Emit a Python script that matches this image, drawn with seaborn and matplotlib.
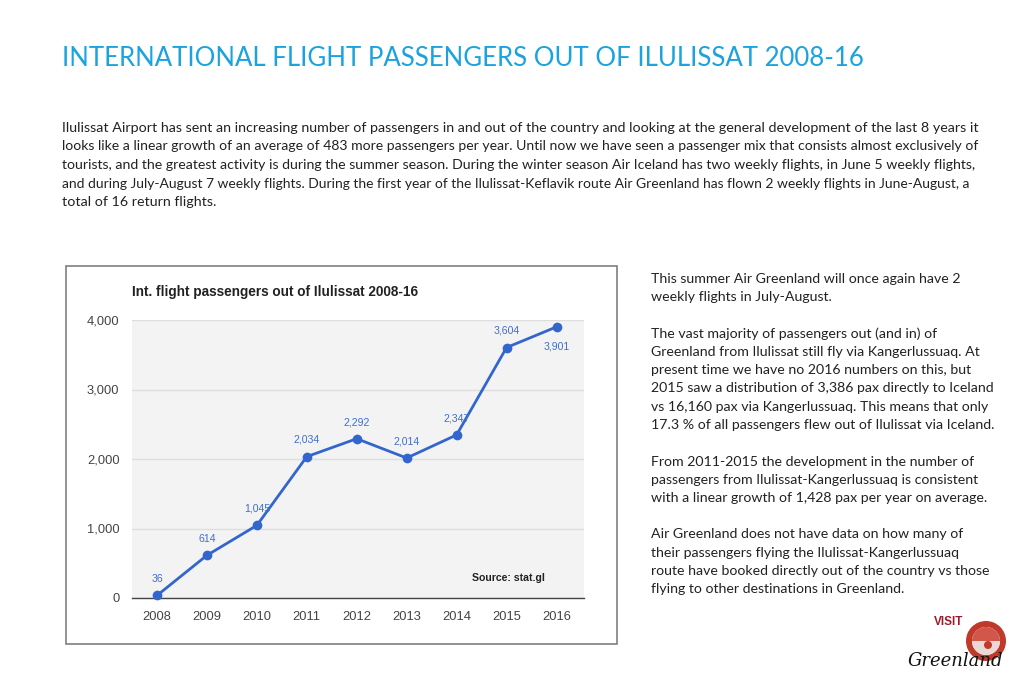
import matplotlib
matplotlib.use("Agg")
import matplotlib.pyplot as plt
import seaborn as sns
import pandas as pd
from matplotlib.patches import Rectangle, Wedge, Circle
from matplotlib.ticker import FuncFormatter

years = [2008, 2009, 2010, 2011, 2012, 2013, 2014, 2015, 2016]
passengers = [36, 614, 1045, 2034, 2292, 2014, 2347, 3604, 3901]
label_below = [False, False, False, False, False, False, False, False, True]
y_ticks = [0, 1000, 2000, 3000, 4000]

title = "INTERNATIONAL FLIGHT PASSENGERS OUT OF ILULISSAT 2008-16"
body_lines = [
    "Ilulissat Airport has sent an increasing number of passengers in and out of the country and looking at the general development of the last 8 years it",
    "looks like a linear growth of an average of 483 more passengers per year. Until now we have seen a passenger mix that consists almost exclusively of",
    "tourists, and the greatest activity is during the summer season. During the winter season Air Iceland has two weekly flights, in June 5 weekly flights,",
    "and during July-August 7 weekly flights. During the first year of the Ilulissat-Keflavik route Air Greenland has flown 2 weekly flights in June-August, a",
    "total of 16 return flights.",
]
side_lines = [
    "This summer Air Greenland will once again have 2",
    "weekly flights in July-August.",
    "",
    "The vast majority of passengers out (and in) of",
    "Greenland from Ilulissat still fly via Kangerlussuaq. At",
    "present time we have no 2016 numbers on this, but",
    "2015 saw a distribution of 3,386 pax directly to Iceland",
    "vs 16,160 pax via Kangerlussuaq. This means that only",
    "17.3 % of all passengers flew out of Ilulissat via Iceland.",
    "",
    "From 2011-2015 the development in the number of",
    "passengers from Ilulissat-Kangerlussuaq is consistent",
    "with a linear growth of 1,428 pax per year on average.",
    "",
    "Air Greenland does not have data on how many of",
    "their passengers flying the Ilulissat-Kangerlussuaq",
    "route have booked directly out of the country vs those",
    "flying to other destinations in Greenland.",
]
chart_title = "Int. flight passengers out of Ilulissat 2008-16"
source_text = "Source: stat.gl"

W, H = 1024, 683
sns.set_style("white")
plt.rcParams["font.family"] = ["Lato", "DejaVu Sans"]

fig = plt.figure(figsize=(W / 100, H / 100), dpi=100)
fig.patch.set_facecolor("white")


def fx(x):
    return x / W


def fy(y):
    return 1 - y / H


renderer = fig.canvas.get_renderer()


def measure(s, size):
    t = fig.text(0, 0, s, fontsize=size)
    w = t.get_window_extent(renderer=renderer).width
    t.remove()
    return w


# Title
title_size = 18 * 798 / measure(title, 18)
fig.text(fx(62), fy(58), title, fontsize=title_size, va="center", ha="left",
         color="#1aa3df")

# Body paragraph: fit the full-width lines to the reference line ends
body_base = 10 * 918 / measure(body_lines[0], 10)
body_ends = [980, 979, 978, 970, None]
for i, line in enumerate(body_lines):
    size = body_base
    if body_ends[i] is not None:
        size = min(body_base * 1.02, 10 * (body_ends[i] - 62) / measure(line, 10))
    fig.text(fx(62), fy(128 + i * 18.5), line, fontsize=size, va="center",
             ha="left", color="#222222")

# Side column
side_size = 10 * 341 / measure(side_lines[8], 10)
for i, line in enumerate(side_lines):
    if line:
        fig.text(fx(651), fy(279 + i * 18.25), line, fontsize=side_size,
                 va="center", ha="left", color="#222222")

# Chart frame
fig.patches.append(Rectangle((fx(66), fy(644)), (617 - 66) / W, (644 - 266) / H,
                             transform=fig.transFigure, fill=False,
                             edgecolor="#7f7f7f", linewidth=1.2))

fig.text(fx(132), fy(292), chart_title, fontsize=9.8, fontweight="bold",
         family=["Liberation Sans", "DejaVu Sans"], color="#222222",
         va="center", ha="left")

# Plot axes
ax = fig.add_axes([fx(132), fy(598), (584 - 132) / W, (598 - 320) / H])
ax.set_facecolor("#f3f3f3")
df = pd.DataFrame({"year": years, "passengers": passengers})
sns.lineplot(data=df, x="year", y="passengers", ax=ax, color="#3366cc",
             linewidth=2, marker="o", markersize=7, markeredgewidth=0,
             clip_on=False, zorder=5)
ax.set_xlim(2007.5, 2016.55)
ax.set_ylim(0, 4000)
ax.set_yticks(y_ticks)
ax.set_xticks(years)
ax.yaxis.set_major_formatter(FuncFormatter(lambda v, p: f"{int(v):,}"))
ax.grid(axis="y", color="#dedede", linewidth=1)
ax.grid(axis="x", visible=False)
for s in ["top", "right", "left"]:
    ax.spines[s].set_visible(False)
ax.spines["bottom"].set_color("#444444")
ax.spines["bottom"].set_linewidth(1)
ax.tick_params(axis="both", length=0, labelsize=9.3, labelcolor="#444444", pad=9)
for lab in ax.get_xticklabels() + ax.get_yticklabels():
    lab.set_family(["Liberation Sans", "DejaVu Sans"])
ax.set_xlabel("")
ax.set_ylabel("")

for x, v, below in zip(years, passengers, label_below):
    off = -14 if below else 12
    ax.annotate(f"{v:,}", (x, v), xytext=(0, off), textcoords="offset points",
                ha="center", va="center", fontsize=7.6, color="#3d6fd0",
                family=["Liberation Sans", "DejaVu Sans"], zorder=6)

fig.text(fx(545), fy(578), source_text, fontsize=7.6, fontweight="bold",
         family=["Liberation Sans", "DejaVu Sans"], color="#222222",
         va="center", ha="right")

# Logo
logo_ax = fig.add_axes([fx(905), fy(680), (1020 - 905) / W, (680 - 615) / H])
logo_ax.set_xlim(905, 1020)
logo_ax.set_ylim(680, 615)
logo_ax.set_aspect("equal")
logo_ax.axis("off")
logo_ax.add_patch(Wedge((986, 641), 20, 0, 360, width=6, facecolor="#c0392b",
                        edgecolor="none"))
logo_ax.add_patch(Wedge((986, 641), 14, 0, 180, facecolor="#ead8d6",
                        edgecolor="none"))
logo_ax.add_patch(Wedge((986, 641), 14, 180, 360, facecolor="#d0574a",
                        edgecolor="none"))
logo_ax.add_patch(Circle((988, 645), 4, facecolor="#c0392b", edgecolor="none"))
logo_ax.text(949, 622, "VISIT", fontsize=8.5, fontweight="bold", color="#9b1c2a",
             ha="center", va="center", family=["Liberation Sans", "DejaVu Sans"])
logo_ax.text(955, 661, "Greenland", fontsize=13, fontstyle="italic",
             color="#111111", ha="center", va="center", family=["DejaVu Serif"])

fig.savefig("out.png", dpi=100)
